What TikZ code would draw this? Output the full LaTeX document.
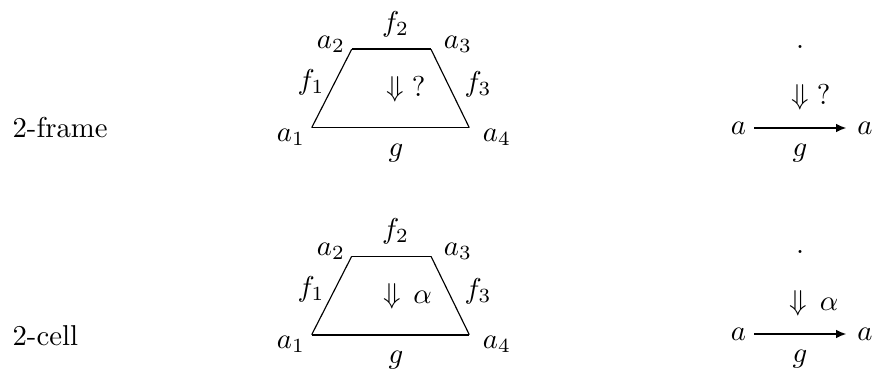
\documentclass[tikz,border=0pt]{standalone}
\usetikzlibrary{arrows.meta}
\begin{document}
\begin{tikzpicture}[x=0.348pt,y=-0.348pt,
  lbl/.style={inner sep=0pt},
  side/.style={line width=0.4pt},
  edgethick/.style={line width=0.62pt},
  edgemid/.style={line width=0.5pt},
  arr/.style={line width=0.6pt,shorten <=2.6pt,shorten >=3.6pt,-{Latex[length=3.6pt,width=3pt]}}]
\useasboundingbox (0,0) rectangle (876,377);
% row labels
\node[lbl,anchor=base west] (rowA) at (12,137) {2-frame};
\node[lbl,anchor=base west] (rowB) at (12,345) {2-cell};
% ---- top trapezoid (2-frame)
\coordinate (A1) at (311.7,127.7);
\coordinate (A2) at (351.7,49.3);
\coordinate (A3) at (431,49.3);
\coordinate (A4) at (469.3,127.7);
\draw[side] (A1) -- (A2);
\draw[edgethick] (A2) -- (A3);
\draw[side] (A3) -- (A4);
\draw[edgemid] (A1) -- (A4);
\node[lbl] (la2) at (331,44) {$a_2$};
\node[lbl] (la3) at (458,44) {$a_3$};
\node[lbl] (lf2) at (395.5,24) {$f_2$};
\node[lbl] (lf1) at (311,82) {$f_1$};
\node[lbl] (lf3) at (478,84) {$f_3$};
\node[lbl] (lq) at (406,89) {$\Downarrow\;?$};
\node[lbl] (la1) at (291,137) {$a_1$};
\node[lbl] (la4) at (497,137) {$a_4$};
\node[lbl] (lg) at (396,153) {$g$};
% ---- bottom trapezoid (2-cell)
\begin{scope}[shift={(0,207)}]
\coordinate (B1) at (311.7,127.7);
\coordinate (B2) at (351.7,49.3);
\coordinate (B3) at (431,49.3);
\coordinate (B4) at (469.3,127.7);
\draw[side] (B1) -- (B2);
\draw[edgemid] (B2) -- (B3);
\draw[side] (B3) -- (B4);
\draw[edgethick] (B1) -- (B4);
\node[lbl] (lb2) at (331,44) {$a_2$};
\node[lbl] (lb3) at (458,44) {$a_3$};
\node[lbl] (mf2) at (395.5,24) {$f_2$};
\node[lbl] (mf1) at (311,82) {$f_1$};
\node[lbl] (mf3) at (478,84) {$f_3$};
\node[lbl] (lal) at (407.5,89) {$\Downarrow\,\alpha$};
\node[lbl] (lb1) at (291,137) {$a_1$};
\node[lbl] (lb4) at (497,137) {$a_4$};
\node[lbl] (mg) at (396,153) {$g$};
\end{scope}
% ---- right column, top
\node[lbl] (dA) at (800,47) {.};
\node[lbl] (qA) at (811,97) {$\Downarrow\;?$};
\node[lbl] (sA) at (738.5,128) {$a$};
\node[lbl] (tA) at (865,128) {$a$};
\draw[arr] (sA) -- (tA);
\node[lbl] (gA) at (800,153) {$g$};
% ---- right column, bottom
\node[lbl] (dB) at (800,252) {.};
\node[lbl] (qB) at (814,303) {$\Downarrow\,\alpha$};
\node[lbl] (sB) at (738.5,334) {$a$};
\node[lbl] (tB) at (865,334) {$a$};
\draw[arr] (sB) -- (tB);
\node[lbl] (gB) at (800,359) {$g$};
\end{tikzpicture}
\end{document}
